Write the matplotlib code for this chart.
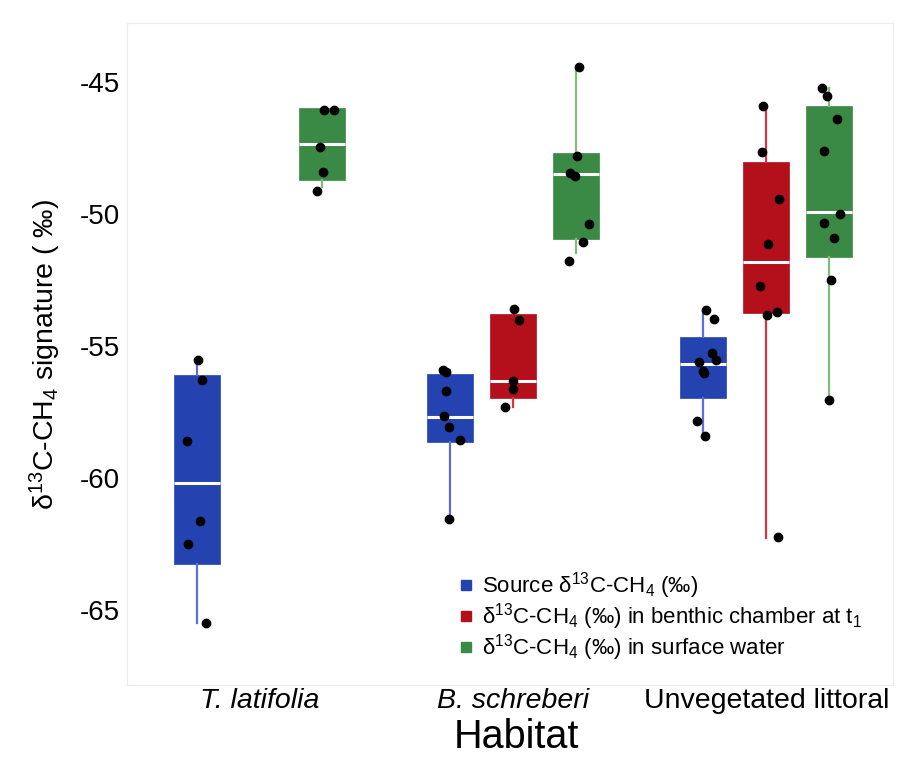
import matplotlib
matplotlib.use("Agg")
import matplotlib.pyplot as plt
from matplotlib.lines import Line2D

plt.rcParams["font.family"] = ["Liberation Sans", "DejaVu Sans"]
plt.rcParams["mathtext.fontset"] = "custom"
plt.rcParams["mathtext.rm"] = "Liberation Sans"
plt.rcParams["mathtext.it"] = "Liberation Sans:italic"

habitats = ["T. latifolia", "B. schreberi", "Unvegetated littoral"]
habitat_italic = [True, True, False]

series_labels = [
    "Source δ$^{13}$C-CH$_4$ (‰)",
    "δ$^{13}$C-CH$_4$ (‰) in benthic chamber at t$_1$",
    "δ$^{13}$C-CH$_4$ (‰) in surface water",
]
box_colors = ["#2443b0", "#b3101c", "#3a8a46"]
whisker_colors = ["#5b6fd6", "#dc3444", "#80bb80"]

# Box summaries per habitat: [lower whisker, Q1, median, Q3, upper whisker]
source_stats = [
    [-65.50, -63.28, -60.22, -56.13, -55.54],
    [-61.57, -58.64, -57.70, -56.07, -55.92],
    [-58.43, -56.98, -55.69, -54.68, -53.65],
]
benthic_stats = [
    None,
    [-57.32, -56.98, -56.34, -53.80, -53.62],
    [-62.29, -53.78, -51.85, -48.06, -45.94],
]
surface_stats = [
    [-49.00, -48.71, -47.36, -46.00, -46.00],
    [-51.50, -50.97, -48.49, -47.70, -44.43],
    [-57.05, -51.64, -49.94, -45.92, -45.25],
]

# Individual measurements per habitat
source_points = [
    [-55.54, -56.30, -58.62, -61.63, -62.50, -65.50],
    [-55.92, -56.00, -56.70, -57.68, -58.08, -58.58, -61.57],
    [-53.65, -53.99, -55.28, -55.53, -55.63, -55.97, -56.02, -57.86, -58.43],
]
benthic_points = [
    [],
    [-53.62, -54.03, -56.32, -56.66, -57.32],
    [-45.94, -47.67, -49.44, -51.15, -52.74, -53.84, -53.74, -62.23],
]
surface_points = [
    [-46.07, -46.07, -47.47, -48.43, -49.13],
    [-44.43, -47.80, -48.46, -48.56, -50.38, -51.06, -51.79],
    [-45.25, -45.54, -46.41, -47.61, -50.00, -50.36, -50.91, -52.52, -57.05],
]

# Horizontal jitter of the points around each box centre
source_jitter = [
    [0.004, 0.023, -0.040, 0.015, -0.034, 0.036],
    [-0.026, -0.016, -0.016, -0.022, -0.003, 0.041, -0.003],
    [0.011, 0.043, 0.034, 0.051, -0.018, -0.001, 0.003, -0.026, 0.007],
]
benthic_jitter = [
    [],
    [0.003, 0.026, 0.001, 0.001, -0.032],
    [-0.012, -0.015, 0.051, 0.005, -0.026, 0.001, 0.041, 0.045],
]
surface_jitter = [
    [0.005, 0.045, -0.011, 0.004, -0.020],
    [0.013, 0.005, -0.022, -0.002, 0.051, 0.027, -0.026],
    [-0.029, -0.009, 0.030, -0.022, 0.043, -0.021, 0.020, 0.006, -0.002],
]

y_ticks = [-45, -50, -55, -60, -65]

all_stats = [source_stats, benthic_stats, surface_stats]
all_points = [source_points, benthic_points, surface_points]
all_jitter = [source_jitter, benthic_jitter, surface_jitter]

fig = plt.figure(figsize=(9.05, 7.61), dpi=100)
ax = fig.add_axes([0.1403, 0.0999, 0.8464, 0.8699])

dodge = 0.248
box_width = 0.182

for s, (stats, pts, jit) in enumerate(zip(all_stats, all_points, all_jitter)):
    offset = (s - 1) * dodge
    for g, st in enumerate(stats):
        pos = g + 1 + offset
        if st is not None:
            lo, q1, med, q3, hi = st
            ax.bxp(
                [dict(whislo=lo, q1=q1, med=med, q3=q3, whishi=hi, fliers=[])],
                positions=[pos], widths=box_width, patch_artist=True,
                showfliers=False, showcaps=False,
                boxprops=dict(facecolor=box_colors[s], edgecolor=box_colors[s], linewidth=0.5),
                whiskerprops=dict(color=whisker_colors[s], linewidth=1.6),
                medianprops=dict(color="white", linewidth=2.2, solid_capstyle="butt"),
                zorder=2,
            )
        xs = [pos + j for j in jit[g]]
        ax.plot(xs, pts[g], "o", color="black", markersize=6, zorder=3, linestyle="none")

ax.set_xlim(0.477, 3.50)
ax.set_ylim(-67.85, -42.78)
ax.set_xticks([1, 2, 3])
ax.set_xticklabels(habitats, fontsize=20.5)
for lbl, it in zip(ax.get_xticklabels(), habitat_italic):
    if it:
        lbl.set_style("italic")
ax.set_yticks(y_ticks)
ax.set_yticklabels([str(v) for v in y_ticks], fontsize=20)
ax.tick_params(axis="both", length=0)
ax.tick_params(axis="x", pad=2)
ax.tick_params(axis="y", pad=5)

for sp in ax.spines.values():
    sp.set_color("#ececec")
    sp.set_linewidth(0.8)

fig.text(516 / 905, 1 - 737 / 761, "Habitat", fontsize=28.5, ha="center", va="center")
ax.set_ylabel("δ$^{13}$C-CH$_4$ signature ( ‰)", fontsize=20.5, labelpad=12)

handles = [Line2D([], [], marker="s", linestyle="none", color=c, markersize=7)
           for c in box_colors]
ax.legend(handles, series_labels, loc="upper left",
          bbox_to_anchor=(445 / 905, 1 - 559 / 761), bbox_transform=fig.transFigure,
          frameon=False, fontsize=16, handletextpad=0.25, labelspacing=0.0,
          borderpad=0, handlelength=0.9)

fig.savefig("out.png", dpi=100)
